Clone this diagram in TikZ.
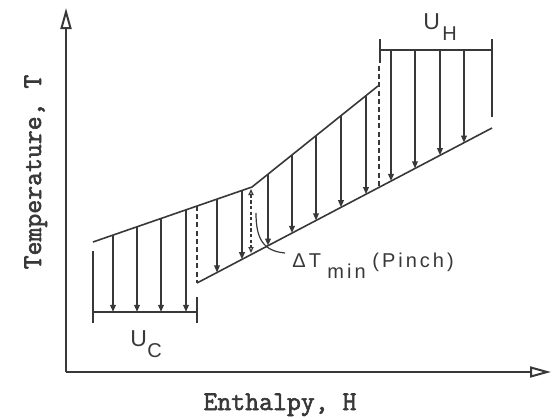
\documentclass[tikz,border=0pt]{standalone}
\usepackage{fontspec}
\setmainfont{Liberation Sans}
\newfontfamily\labfont[LetterSpace=15]{Liberation Sans}
\newfontfamily\axfont[FakeBold=2.2]{Latin Modern Mono}
\usetikzlibrary{arrows.meta}
\definecolor{ink}{HTML}{383838}
\begin{document}
\begin{tikzpicture}[x=0.5pt,y=-0.5pt,
  ln/.style={draw=ink, line width=0.8pt},
  flow/.style={ln, line width=0.9pt, -{Triangle[length=3.6pt,width=2.8pt]}},
  axis/.style={draw=ink, line width=1pt, -{Triangle[open,length=10.5pt,width=5.5pt]}},
  bound/.style={draw=ink, line width=0.8pt, dash pattern=on 2.5pt off 1.6pt},
  pinch/.style={draw=ink, line width=0.6pt, dash pattern=on 1.6pt off 1.2pt,
     {Triangle[open,length=3pt,width=2.6pt]}-{Triangle[open,length=3pt,width=2.6pt]}},
  lab/.style={inner sep=0pt, anchor=base west, text=ink, font=\labfont\fontsize{10}{12}\selectfont},
  big/.style={inner sep=0pt, anchor=base west, text=ink, font=\labfont\fontsize{11.5}{13}\selectfont},
  axlab/.style={inner sep=0pt, anchor=base, text=ink, font=\axfont\fontsize{13.5}{15}\selectfont}]
\useasboundingbox (0,0) rectangle (553,419);

% axes
\coordinate (O) at (66,372);
\coordinate (Ytop) at (66,8);
\coordinate (Xend) at (551,372);
\draw[axis] (O) -- (Ytop);
\draw[axis] (O) -- (Xend);
\node[axlab] (xl) at (280,410) {Enthalpy,\ H};
\node[axlab, rotate=90] (yl) at (41,172) {Temperature, T};

% composite curves
\coordinate (h0) at (93,242);
\coordinate (hk) at (252,187);
\coordinate (h1) at (378,86);
\coordinate (c0) at (197,283);
\coordinate (c1) at (492,128);
\draw[ln] (h0) -- (hk) -- (h1);
\draw[ln] (c0) -- (c1);

% hot utility bracket
\coordinate (uhL) at (380,50);
\coordinate (uhR) at (492,50);
\draw[ln] (uhL) -- (uhR);
\draw[ln] (380,39) -- (380,63);
\draw[ln] (492,39) -- (492,117);
\draw[bound] (379,66) -- (379,188);
\foreach \x in {391,415,440,464}
  \draw[flow] (\x,50) -- (\x,{283-0.5254*(\x-197)});

% cold utility bracket
\coordinate (ucL) at (93,312);
\coordinate (ucR) at (197,312);
\draw[ln] (ucL) -- (ucR);
\draw[ln] (93,251) -- (93,323);
\draw[ln] (197,297) -- (197,323);
\draw[bound] (197,206) -- (c0);
\foreach \x in {113,137,161,186}
  \draw[flow] (\x,{242-0.3459*(\x-93)}) -- (\x,312);

% process heat exchange below pinch
\foreach \x in {217,242}
  \draw[flow] (\x,{242-0.3459*(\x-93)}) -- (\x,{283-0.5254*(\x-197)});
% above pinch
\foreach \x in {268,292,316,341,366}
  \draw[flow] (\x,{187-0.8016*(\x-252)}) -- (\x,{283-0.5254*(\x-197)});

% pinch
\coordinate (pt) at (251,189);
\coordinate (pb) at (251,253);
\draw[pinch] (pt) -- (pb);
\coordinate (ld) at (285,253);
\draw[ln, line width=0.6pt] (256,213) .. controls (256,240) and (264,251) .. (ld);

% labels
\node[big] (U1) at (423,29) {U};
\node[lab] (H1) at (442,40) {H};
\node[big] (U2) at (130,346) {U};
\node[lab] (C2) at (147,357) {C};
\node[lab] (dT) at (292,267) {ΔT};
\node[lab] (mn) at (327,278) {min};
\node[lab] (pn) at (372,267) {(Pinch)};
\end{tikzpicture}
\end{document}
